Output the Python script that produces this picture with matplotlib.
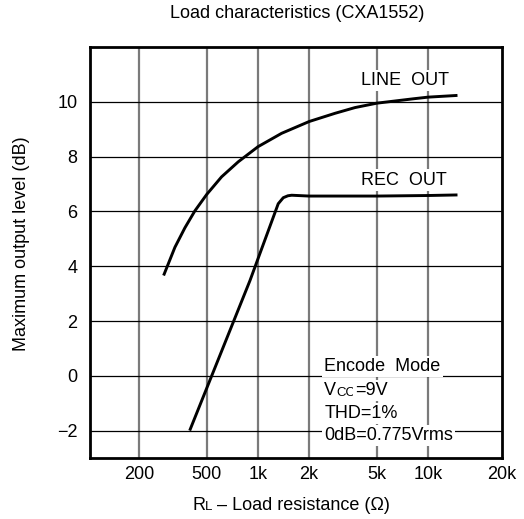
import matplotlib
matplotlib.use("Agg")
import matplotlib.pyplot as plt

plt.rcParams['font.family'] = ['Liberation Sans', 'DejaVu Sans']

# data
line_out_r = [281, 325, 372, 426, 500, 611, 766, 1000, 1378, 2000, 2838,
              3724, 5000, 8200, 10000, 14600]
line_out_db = [3.71, 4.69, 5.40, 6.02, 6.62, 7.26, 7.81, 8.36, 8.85, 9.28,
               9.58, 9.79, 9.95, 10.11, 10.17, 10.23]

rec_out_r = [400, 897, 1316, 1409, 1500, 1579, 2000, 5000, 10000, 14600]
rec_out_db = [-1.95, 3.47, 6.28, 6.50, 6.57, 6.59, 6.56, 6.56, 6.58, 6.6]

x_ticks = [200, 500, 1000, 2000, 5000, 10000]
x_tick_labels = ['200', '500', '1k', '2k', '5k', '10k']
x_edge = 27200          # right border of the drawing, labelled "20k" there
y_ticks = [-2, 0, 2, 4, 6, 8, 10]
y_tick_labels = ['\u22122', '0', '2', '4', '6', '8', '10']

W, H = 524, 519
FS = 13
fig = plt.figure(figsize=(W / 100, H / 100), dpi=100)
ax = fig.add_axes([90 / W, 1 - 458 / H, 412 / W, 411 / H])

ax.set_xscale('log')
ax.set_xlim(103, x_edge)
ax.set_ylim(-3, 12)

# grid: vertical lines grey, horizontal lines black
for xv in x_ticks:
    ax.axvline(xv, color='#7a7a7a', lw=1.6, zorder=1)
for yv in y_ticks:
    ax.axhline(yv, color='black', lw=0.9, zorder=1)

ax.plot(line_out_r, line_out_db, color='black', lw=2.1, zorder=3)
ax.plot(rec_out_r, rec_out_db, color='black', lw=2.1, zorder=3)

ax.set_xticks(x_ticks + [x_edge])
ax.set_xticklabels(x_tick_labels + ['20k'])
ax.minorticks_off()
ax.set_yticks(y_ticks)
ax.set_yticklabels(y_tick_labels)
ax.tick_params(axis='both', length=0, labelsize=FS)
ax.tick_params(axis='x', pad=6)
ax.tick_params(axis='y', pad=9)

for s in ax.spines.values():
    s.set_linewidth(2)
    s.set_zorder(5)

white = dict(facecolor='white', edgecolor='none', pad=1.5)

ax.text(4050, 10.77, 'LINE  OUT', fontsize=FS, va='center', ha='left',
        bbox=white, zorder=4)
ax.text(4050, 7.14, 'REC  OUT', fontsize=FS, va='center', ha='left',
        bbox=white, zorder=4)

bx = 2450
ax.text(bx, 0.35, 'Encode  Mode', fontsize=FS, va='center', bbox=white, zorder=4)
tv = ax.text(bx, -0.53, 'V', fontsize=FS, va='center', bbox=white, zorder=4)
tc = ax.annotate('CC', xy=(1, 0), xycoords=tv, va='bottom', ha='left',
                 fontsize=9.5, bbox=dict(facecolor='white', edgecolor='none', pad=0.5),
                 zorder=4)
ax.annotate('=9V', xy=(1, 0), xycoords=tc, va='bottom', ha='left',
            fontsize=FS, bbox=white, zorder=4)
ax.text(bx, -1.38, 'THD=1%', fontsize=FS, va='center', bbox=white, zorder=4)
ax.text(bx, -2.18, '0dB=0.775Vrms', fontsize=FS, va='center', bbox=white, zorder=4)

fig.text(297 / W, 1 - 14 / H, 'Load characteristics (CXA1552)', fontsize=FS,
         ha='center', va='center')
fig.text(22 / W, 1 - 244 / H, 'Maximum output level (dB)', fontsize=FS,
         ha='center', va='center', rotation=90)

tr = fig.text(192 / W, 1 - 505 / H, 'R', fontsize=FS, ha='left', va='center')
tl = plt.annotate('L', xy=(1, 0), xycoords=tr, va='bottom', ha='left', fontsize=9.5,
                  annotation_clip=False)
plt.annotate(' \u2013 Load resistance (\u03a9)', xy=(1, 0), xycoords=tl,
             va='bottom', ha='left', fontsize=FS, annotation_clip=False)

fig.savefig('out.png', dpi=100)
